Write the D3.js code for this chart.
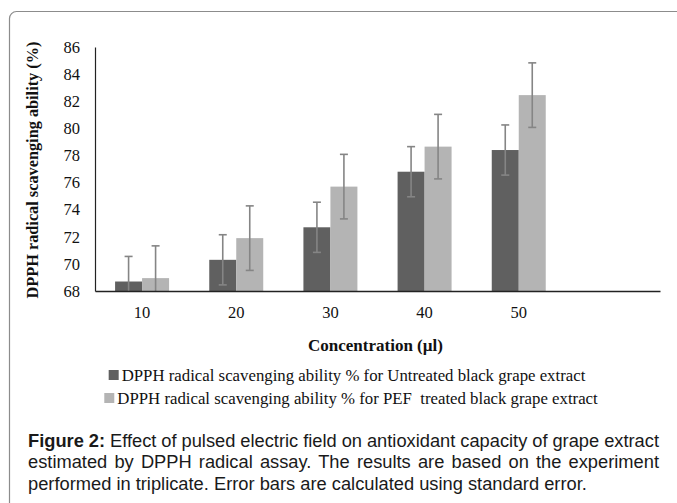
<!DOCTYPE html>
<html>
<head>
<meta charset="utf-8">
<script src="https://cdn.jsdelivr.net/npm/d3@7"></script>
<style>
  html, body { margin: 0; padding: 0; background: #fff; }
  svg { display: block; }
</style>
</head>
<body>
<svg id="chart" width="677" height="503"></svg>
<script>
// ---- data ----
const categories = ["10", "20", "30", "40", "50", ""];
const seriesNames = [
  "DPPH radical scavenging ability % for Untreated black grape extract",
  "DPPH radical scavenging ability % for PEF  treated black grape extract"
];
const untreatedValues = [68.7, 70.3, 72.7, 76.8, 78.4];
const pefValues = [68.95, 71.9, 75.7, 78.65, 82.45];
const untreatedErrors = [1.85, 1.85, 1.85, 1.85, 1.85];
const pefErrors = [2.38, 2.38, 2.38, 2.38, 2.38];
const yTicks = [68, 70, 72, 74, 76, 78, 80, 82, 84, 86];
const yTitle = "DPPH radical scavenging ability (%)";
const xTitle = "Concentration (\u00b5l)";
const captionBold = "Figure 2:";
const captionLines = [
  " Effect of pulsed electric field on antioxidant capacity of grape extract",
  "estimated by DPPH radical assay. The results are based on the experiment",
  "performed in triplicate. Error bars are calculated using standard error."
];

const colors = ["#606060", "#b4b4b4"];
const serif = "'Liberation Serif', 'Times New Roman', serif";
const sans = "'Liberation Sans', Arial, sans-serif";

const svg = d3.select("#chart");

// outer frame (rounded, runs off right and bottom)
svg.append("rect")
  .attr("x", 9.5).attr("y", 11.5)
  .attr("width", 720).attr("height", 600)
  .attr("rx", 7).attr("ry", 7)
  .attr("fill", "none").attr("stroke", "#8c8c8c").attr("stroke-width", 1.2);

const plot = { left: 95, right: 660, top: 47, bottom: 291 };

const x = d3.scaleBand().domain(categories).range([plot.left, plot.right]).padding(0);
const x1 = d3.scaleBand().domain([0, 1]).range([0, x.bandwidth()]).paddingInner(0).paddingOuter(0.744);
const y = d3.scaleLinear().domain([68, 86]).range([plot.bottom, plot.top]);

const rows = categories.slice(0, untreatedValues.length).map((c, i) => ({
  cat: c,
  vals: [
    { s: 0, v: untreatedValues[i], e: untreatedErrors[i] },
    { s: 1, v: pefValues[i], e: pefErrors[i] }
  ]
}));

svg.append("clipPath").attr("id", "clip")
  .append("rect")
  .attr("x", plot.left).attr("y", 0)
  .attr("width", plot.right - plot.left).attr("height", plot.bottom);

const g = svg.append("g").attr("clip-path", "url(#clip)");

const groups = g.selectAll("g.grp").data(rows).enter().append("g")
  .attr("class", "grp")
  .attr("transform", d => `translate(${x(d.cat)},0)`);

groups.selectAll("rect").data(d => d.vals).enter().append("rect")
  .attr("x", d => x1(d.s))
  .attr("width", x1.bandwidth())
  .attr("y", d => y(d.v))
  .attr("height", d => y(68) - y(d.v))
  .attr("fill", d => colors[d.s]);

// error bars
const eb = groups.selectAll("g.eb").data(d => d.vals).enter().append("g").attr("class", "eb")
  .attr("stroke", "#858585").attr("stroke-width", 1.6);
eb.append("line")
  .attr("x1", d => x1(d.s) + x1.bandwidth() / 2)
  .attr("x2", d => x1(d.s) + x1.bandwidth() / 2)
  .attr("y1", d => y(d.v + d.e))
  .attr("y2", d => y(d.v - d.e));
eb.append("line")
  .attr("x1", d => x1(d.s) + x1.bandwidth() / 2 - 4)
  .attr("x2", d => x1(d.s) + x1.bandwidth() / 2 + 4)
  .attr("y1", d => y(d.v + d.e))
  .attr("y2", d => y(d.v + d.e));
eb.append("line")
  .attr("x1", d => x1(d.s) + x1.bandwidth() / 2 - 4)
  .attr("x2", d => x1(d.s) + x1.bandwidth() / 2 + 4)
  .attr("y1", d => y(d.v - d.e))
  .attr("y2", d => y(d.v - d.e));

// axes
const yAxis = d3.axisLeft(y).tickValues(yTicks).tickSize(0).tickPadding(15).tickFormat(d3.format("d"));
const ya = svg.append("g").attr("transform", `translate(${plot.left},0)`).call(yAxis);
ya.select(".domain").attr("stroke", "#222").attr("stroke-width", 1.2);
ya.selectAll("text").attr("font-family", serif).attr("font-size", 16.5).attr("fill", "#111");

const xAxis = d3.axisBottom(x).tickSize(0).tickPadding(15);
const xa = svg.append("g").attr("transform", `translate(0,${plot.bottom})`).call(xAxis);
xa.select(".domain").attr("stroke", "#222").attr("stroke-width", 1.6);
xa.selectAll("text").attr("font-family", serif).attr("font-size", 16.5).attr("fill", "#111");

// axis titles
svg.append("text")
  .attr("transform", `translate(38,${(plot.top + plot.bottom) / 2 + 1}) rotate(-90)`)
  .attr("text-anchor", "middle")
  .attr("font-family", serif).attr("font-size", 16.3).attr("font-weight", "bold").attr("fill", "#111")
  .text(yTitle);

svg.append("text")
  .attr("x", (plot.left + plot.right) / 2 - 2).attr("y", 351)
  .attr("text-anchor", "middle")
  .attr("font-family", serif).attr("font-size", 17).attr("font-weight", "bold").attr("fill", "#111")
  .text(xTitle);

// legend (each row centered)
const legendCenter = [347, 351];
const legendY = [375, 398];
seriesNames.forEach((name, i) => {
  const lg = svg.append("g");
  const t = lg.append("text")
    .attr("font-family", serif).attr("font-size", 16.8).attr("fill", "#111")
    .style("white-space", "pre")
    .attr("y", legendY[i] + 6)
    .text(name);
  const tw = t.node().getComputedTextLength();
  const total = 13 + tw;
  const x0 = legendCenter[i] - total / 2;
  lg.append("rect").attr("x", x0).attr("y", legendY[i] - 5).attr("width", 10).attr("height", 10).attr("fill", colors[i]);
  t.attr("x", x0 + 13);
});

// caption (justified)
const capLeft = 28, capRight = 659;
const capY = [447, 468, 490];
captionLines.forEach((line, i) => {
  const t = svg.append("text")
    .attr("x", capLeft).attr("y", capY[i])
    .attr("font-family", sans).attr("font-size", 18.3).attr("fill", "#1a1a1a");
  if (i === 0) {
    t.append("tspan").attr("font-weight", "bold").text(captionBold);
  }
  t.append("tspan").text(line);
  if (i < captionLines.length - 1) {
    const w = t.node().getComputedTextLength();
    const full = (i === 0 ? captionBold : "") + line;
    const spaces = (full.match(/ /g) || []).length;
    const extra = (capRight - capLeft - w) / spaces;
    t.style("word-spacing", extra + "px");
  }
});
</script>
</body>
</html>
